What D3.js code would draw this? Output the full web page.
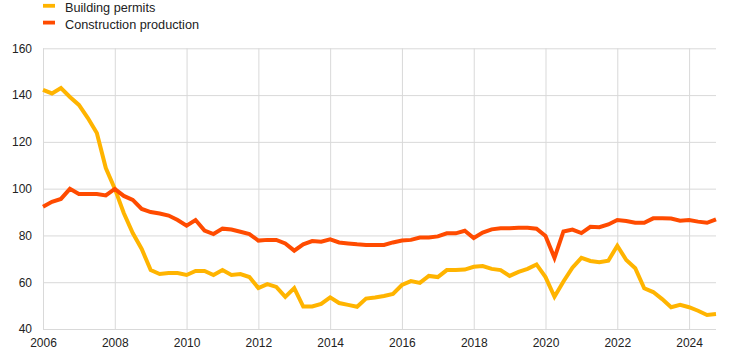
<!DOCTYPE html>
<html>
<head>
<meta charset="utf-8">
<script src="https://cdn.jsdelivr.net/npm/d3@7"></script>
<style>
  html, body { margin: 0; padding: 0; background: #fff; }
  svg { display: block; font-family: Arial, "Liberation Sans", sans-serif; }
</style>
</head>
<body>
<svg id="chart" width="744" height="356"></svg>
<script>
// Quarterly data, 2006 Q1 .. 2024 Q4
const startYear = 2006;
const seriesNames = ["Building permits", "Construction production"];
const seriesColors = ["#FFB400", "#FF4B00"];
const buildingPermits = [
  142.2, 140.7, 143.0, 139.2,
  135.8, 130.2, 123.8, 108.8,
  100.0, 89.6, 81.0, 74.2,
  65.2, 63.5, 63.9, 63.9,
  63.1, 64.8, 64.8, 63.1,
  65.2, 63.1, 63.5, 62.2,
  57.5, 59.2, 58.0, 53.7,
  57.5, 49.6, 49.6, 50.7,
  53.5, 51.1, 50.3, 49.5,
  53.0, 53.5, 54.1, 55.0,
  58.8, 60.5, 59.7, 62.7,
  62.2, 65.2, 65.2, 65.4,
  66.6, 66.9, 65.7, 65.2,
  62.7, 64.4, 65.7, 67.6,
  62.2, 53.8, 60.3, 66.2,
  70.4, 69.1, 68.5, 69.2,
  75.6, 69.5, 66.0, 57.4,
  55.8, 52.8, 49.3, 50.3,
  49.3, 47.8, 46.0, 46.4
];
const constructionProduction = [
  92.3, 94.4, 95.6, 99.9,
  97.7, 97.7, 97.7, 97.1,
  99.9, 96.9, 95.2, 91.3,
  90.0, 89.4, 88.5, 86.6,
  84.2, 86.6, 82.1, 80.6,
  82.9, 82.5, 81.6, 80.6,
  77.8, 78.1, 78.1, 76.6,
  73.5, 76.2, 77.6, 77.3,
  78.3, 77.0, 76.6, 76.2,
  75.9, 75.9, 75.9, 77.0,
  77.8, 78.1, 79.1, 79.1,
  79.6, 80.9, 80.9, 82.0,
  78.9, 81.2, 82.6, 83.1,
  83.1, 83.3, 83.3, 82.9,
  79.8, 70.4, 81.7, 82.5,
  81.0, 83.7, 83.5, 84.7,
  86.6, 86.2, 85.4, 85.4,
  87.3, 87.3, 87.2, 86.3,
  86.6, 85.9, 85.4, 86.9
];
const yTicks = [40, 60, 80, 100, 120, 140, 160];
const xTicks = [2006, 2008, 2010, 2012, 2014, 2016, 2018, 2020, 2022, 2024];

const svg = d3.select("#chart");
const margin = { left: 43, right: 28, top: 48.3, bottom: 27 };
const W = 744, H = 356;

const x = d3.scaleLinear()
  .domain([2006, 2024.75])
  .range([margin.left, W - margin.right]);
const y = d3.scaleLinear()
  .domain([40, 160])
  .range([H - margin.bottom, margin.top]);

// horizontal gridlines + y labels
const yAxis = d3.axisLeft(y).tickValues(yTicks).tickSize(-(x.range()[1] - x.range()[0])).tickPadding(11);
const gy = svg.append("g").attr("transform", `translate(${margin.left},0)`).call(yAxis);
gy.select(".domain").remove();
gy.selectAll(".tick line").attr("stroke", "#d9d9d9").attr("stroke-width", 1);
gy.selectAll(".tick text").attr("fill", "#222").attr("font-size", 12);

// vertical gridlines + x labels
const xAxis = d3.axisBottom(x).tickValues(xTicks).tickFormat(d3.format("d"))
  .tickSize(-(y.range()[0] - y.range()[1])).tickPadding(9);
const gx = svg.append("g").attr("transform", `translate(0,${y.range()[0]})`).call(xAxis);
gx.select(".domain").remove();
gx.selectAll(".tick line").attr("stroke", "#d9d9d9").attr("stroke-width", 1);
gx.selectAll(".tick text").attr("fill", "#222").attr("font-size", 12);

// lines
const toPoints = arr => arr.map((v, i) => ({ t: startYear + i / 4, v }));
const line = d3.line().x(d => x(d.t)).y(d => y(d.v));
[buildingPermits, constructionProduction].forEach((arr, i) => {
  svg.append("path")
    .datum(toPoints(arr))
    .attr("fill", "none")
    .attr("stroke", seriesColors[i])
    .attr("stroke-width", 4)
    .attr("stroke-linejoin", "miter")
    .attr("d", line);
});

// legend
const lg = svg.append("g");
seriesNames.forEach((name, i) => {
  const yy = 5.7 + i * 16.8;
  lg.append("rect").attr("x", 43).attr("y", yy - 1.8).attr("width", 12).attr("height", 3.8)
    .attr("fill", seriesColors[i]);
  lg.append("text").attr("x", 65).attr("y", yy + 6.6)
    .attr("font-size", 12.7).attr("fill", "#222").text(name);
});
</script>
</body>
</html>
